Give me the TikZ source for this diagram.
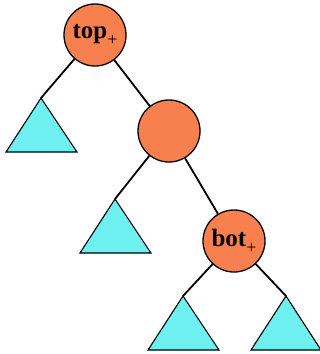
\documentclass[tikz,border=0pt]{standalone}
\usepackage{fontspec}
\setmainfont{Liberation Serif}
\definecolor{nodeorange}{RGB}{248,128,78}
\definecolor{subcyan}{RGB}{110,240,240}
\newcommand{\plussub}{\raisebox{-7pt}{\mdseries\fontsize{18}{20}\selectfont+}}
\begin{document}
\begin{tikzpicture}[x=1pt,y=-1pt,
  treenode/.style={circle,draw=black,line width=1.3pt,fill=nodeorange,minimum size=62pt,inner sep=0pt,
    font=\fontsize{25}{27}\selectfont\bfseries},
  subtree/.style={draw=black,line width=1.1pt,fill=subcyan,line join=miter},
  edge/.style={draw=black,line width=1.8pt}]
\useasboundingbox (0,0) rectangle (320,354);
% inner nodes
\node[treenode] (top) at (95,35) {top\plussub};
\node[treenode] (mid) at (169,131) {};
\node[treenode] (bot) at (234,241) {bot\plussub};
% subtree apexes
\coordinate (tA) at (41,98);
\coordinate (tB) at (115,199);
\coordinate (tC) at (183,296);
\coordinate (tD) at (286,296);
% edges
\draw[edge] (top) -- (tA);
\draw[edge] (top) -- (mid);
\draw[edge] (mid) -- (tB);
\draw[edge] (mid) -- (bot);
\draw[edge] (bot) -- (tC);
\draw[edge] (bot) -- (tD);
% subtrees
\path[subtree] (tA) -- ++(-35,54) -- ++(71,0) -- cycle;
\path[subtree] (tB) -- ++(-35,54) -- ++(71,0) -- cycle;
\path[subtree] (tC) -- ++(-35,54) -- ++(71,0) -- cycle;
\path[subtree] (tD) -- ++(-35,54) -- ++(70,0) -- cycle;
\end{tikzpicture}
\end{document}
